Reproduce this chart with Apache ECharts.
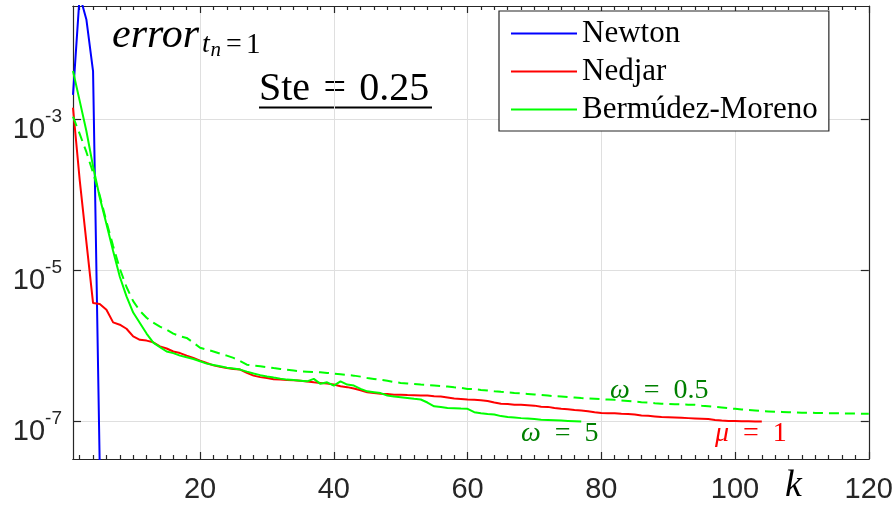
<!DOCTYPE html>
<html>
<head>
<meta charset="utf-8">
<script src="https://cdn.jsdelivr.net/npm/echarts@6/dist/echarts.min.js"></script>
<style>
  html, body { margin: 0; padding: 0; background: #fff; }
  #chart { width: 896px; height: 506px; }
</style>
</head>
<body>
<div id="chart"></div>
<script>
// Error at t_n = 1 versus iteration k (Ste = 0.25)

// Newton iterations k = 1..5
const newtonErr = [2.1e-3, 4.4e-2, 2.1e-2, 4.3e-3, 2.5e-8];

// Nedjar (mu = 1), k = 1..104
const nedjarErr = [
  1.42e-3, 1.57e-4, 2.38e-5, 3.68e-6, 3.57e-6, 3.0e-6, 2.04e-6, 1.90e-6, 1.68e-6, 1.33e-6,
  1.20e-6, 1.17e-6, 1.11e-6, 9.8e-7, 9.2e-7, 8.4e-7, 8.0e-7, 7.4e-7, 6.9e-7, 6.35e-7,
  5.9e-7, 5.5e-7, 5.25e-7, 5.06e-7, 4.93e-7, 4.83e-7, 4.37e-7, 4.02e-7, 3.84e-7, 3.73e-7,
  3.61e-7, 3.56e-7, 3.53e-7, 3.48e-7, 3.45e-7, 3.35e-7, 3.28e-7, 3.22e-7, 3.15e-7, 3.06e-7,
  2.90e-7, 2.83e-7, 2.71e-7, 2.57e-7, 2.42e-7, 2.36e-7, 2.32e-7, 2.29e-7, 2.25e-7, 2.25e-7,
  2.22e-7, 2.21e-7, 2.19e-7, 2.19e-7, 2.15e-7, 2.12e-7, 2.06e-7, 2.0e-7, 1.97e-7, 1.94e-7,
  1.92e-7, 1.90e-7, 1.85e-7, 1.77e-7, 1.71e-7, 1.69e-7, 1.66e-7, 1.65e-7, 1.63e-7, 1.61e-7,
  1.56e-7, 1.55e-7, 1.50e-7, 1.46e-7, 1.44e-7, 1.41e-7, 1.39e-7, 1.36e-7, 1.32e-7, 1.29e-7,
  1.28e-7, 1.28e-7, 1.26e-7, 1.25e-7, 1.23e-7, 1.19e-7, 1.18e-7, 1.16e-7, 1.14e-7, 1.13e-7,
  1.12e-7, 1.11e-7, 1.10e-7, 1.09e-7, 1.08e-7, 1.07e-7, 1.04e-7, 1.02e-7, 1.01e-7, 1.005e-7,
  1.0e-7, 1.0e-7, 0.99e-7, 0.99e-7
];

// Bermudez-Moreno, omega = 5, k = 1..77
const bmOmega5Err = [
  4.36e-3, 1.75e-3, 7.0e-4, 2.38e-4, 9.2e-5, 4.1e-5, 1.8e-5, 8.2e-6, 4.5e-6, 2.75e-6,
  2.0e-6, 1.45e-6, 1.10e-6, 9.6e-7, 8.4e-7, 7.98e-7, 7.4e-7, 7.03e-7, 6.68e-7, 6.22e-7,
  5.8e-7, 5.57e-7, 5.35e-7, 5.13e-7, 4.98e-7, 4.83e-7, 4.54e-7, 4.28e-7, 4.08e-7, 3.92e-7,
  3.79e-7, 3.67e-7, 3.56e-7, 3.51e-7, 3.45e-7, 3.38e-7, 3.64e-7, 3.13e-7, 3.28e-7, 2.97e-7,
  3.38e-7, 3.06e-7, 2.97e-7, 2.68e-7, 2.49e-7, 2.43e-7, 2.36e-7, 2.19e-7, 2.12e-7, 2.08e-7,
  2.03e-7, 1.98e-7, 1.94e-7, 1.77e-7, 1.58e-7, 1.54e-7, 1.50e-7, 1.49e-7, 1.47e-7, 1.46e-7,
  1.32e-7, 1.28e-7, 1.25e-7, 1.23e-7, 1.17e-7, 1.14e-7, 1.12e-7, 1.10e-7, 1.09e-7, 1.07e-7,
  1.05e-7, 1.04e-7, 1.03e-7, 1.02e-7, 1.01e-7, 1.0e-7, 0.99e-7
];

// Bermudez-Moreno, omega = 0.5, k = 1..120
const bmOmega05Err = [
  1.08e-3, 6.4e-4, 3.69e-4, 1.95e-4, 9.8e-5, 4.4e-5, 2.1e-5, 1.05e-5, 6.0e-6, 3.9e-6,
  2.9e-6, 2.35e-6, 2.02e-6, 1.79e-6, 1.63e-6, 1.45e-6, 1.34e-6, 1.27e-6, 1.10e-6, 9.4e-7,
  8.9e-7, 8.4e-7, 7.86e-7, 7.4e-7, 6.9e-7, 6.25e-7, 5.62e-7, 5.45e-7, 5.35e-7, 5.2e-7,
  5.06e-7, 4.93e-7, 4.80e-7, 4.69e-7, 4.58e-7, 4.54e-7, 4.49e-7, 4.45e-7, 4.37e-7, 4.28e-7,
  4.19e-7, 4.1e-7, 4.02e-7, 3.90e-7, 3.74e-7, 3.64e-7, 3.54e-7, 3.44e-7, 3.30e-7, 3.22e-7,
  3.17e-7, 3.11e-7, 3.06e-7, 3.02e-7, 2.97e-7, 2.92e-7, 2.89e-7, 2.82e-7, 2.77e-7, 2.68e-7,
  2.66e-7, 2.60e-7, 2.56e-7, 2.50e-7, 2.45e-7, 2.41e-7, 2.37e-7, 2.34e-7, 2.30e-7, 2.26e-7,
  2.23e-7, 2.19e-7, 2.15e-7, 2.13e-7, 2.09e-7, 2.06e-7, 2.03e-7, 2.01e-7, 1.99e-7, 1.96e-7,
  1.94e-7, 1.92e-7, 1.88e-7, 1.85e-7, 1.82e-7, 1.79e-7, 1.77e-7, 1.73e-7, 1.71e-7, 1.70e-7,
  1.68e-7, 1.67e-7, 1.66e-7, 1.65e-7, 1.61e-7, 1.58e-7, 1.55e-7, 1.52e-7, 1.49e-7, 1.46e-7,
  1.43e-7, 1.41e-7, 1.39e-7, 1.36e-7, 1.35e-7, 1.34e-7, 1.33e-7, 1.32e-7, 1.31e-7, 1.30e-7,
  1.30e-7, 1.29e-7, 1.29e-7, 1.28e-7, 1.28e-7, 1.27e-7, 1.27e-7, 1.27e-7, 1.26e-7, 1.26e-7
];

// Axis ranges and tick marks
const K_MIN = 1, K_MAX = 120;
const Y_MIN = Math.pow(10, -7.5), Y_MAX = Math.pow(10, -1.5);
const xMajorTicks = [20, 40, 60, 80, 100, 120];
const xMinorTicks = [2, 4, 6, 8, 10, 12, 14, 16, 18, 22, 24, 26, 28, 30, 32, 34, 36, 38,
  42, 44, 46, 48, 50, 52, 54, 56, 58, 62, 64, 66, 68, 70, 72, 74, 76, 78,
  82, 84, 86, 88, 90, 92, 94, 96, 98, 102, 104, 106, 108, 110, 112, 114, 116, 118];
const yTicks = [1e-7, 1e-5, 1e-3];

const INK = '#262626';
const GRID = '#dfdfdf';
const DARK_GREEN = '#008000';
const SANS = '"Liberation Sans", Arial, sans-serif';
const SERIF = '"Liberation Serif", "Times New Roman", serif';
const EN = '\u2002';

const withK = arr => arr.map((v, i) => [i + 1, v]);

function xAxisDef(pos, ticks, len, withLabels, withGrid) {
  return {
    type: 'value', position: pos, min: K_MIN, max: K_MAX,
    axisLine: { show: true, onZero: false, lineStyle: { color: INK, width: 1.2 } },
    axisTick: { show: true, inside: true, length: len, customValues: ticks,
                lineStyle: { color: INK, width: 1.2 } },
    axisLabel: withLabels ? {
      show: true, customValues: ticks, margin: 16,
      fontFamily: SANS, fontSize: 29, color: INK
    } : { show: false },
    splitLine: { show: withGrid, lineStyle: { color: GRID, width: 1 } }
  };
}

function yAxisDef(pos, withLabels) {
  return {
    type: 'log', logBase: 10, position: pos, min: Y_MIN, max: Y_MAX,
    axisLine: { show: true, onZero: false, lineStyle: { color: INK, width: 1.2 } },
    axisTick: { show: true, inside: true, length: 8, customValues: yTicks,
                lineStyle: { color: INK, width: 1.2 } },
    axisLabel: withLabels ? {
      show: true, customValues: yTicks, margin: 11,
      formatter: v => '{b|10}{s|' + Math.round(Math.log10(v)) + '}',
      rich: {
        b: { fontFamily: SANS, fontSize: 29, lineHeight: 30, color: INK,
             verticalAlign: 'top', padding: [11, 0, 0, 0] },
        s: { fontFamily: SANS, fontSize: 19, lineHeight: 19, color: INK,
             verticalAlign: 'top', padding: [3, 0, 0, 0] }
      }
    } : { show: false },
    splitLine: { show: withLabels, lineStyle: { color: GRID, width: 1 } }
  };
}

function lineSeries(name, values, color, dashed) {
  return {
    name: name, type: 'line', data: withK(values),
    xAxisIndex: 0, yAxisIndex: 0,
    symbol: 'none', showSymbol: false, clip: true,
    lineStyle: { color: color, width: 2, type: dashed ? [10, 6] : 'solid' },
    itemStyle: { color: color },
    emphasis: { disabled: true }
  };
}

function label(x, y, text, font, color, rich) {
  return {
    type: 'text', x: x, y: y, silent: true,
    style: {
      text: text, font: font, fill: color, rich: rich,
      align: 'left', verticalAlign: 'middle', textAlign: 'left', textVerticalAlign: 'middle'
    }
  };
}

function mathRich(color) {
  return {
    i: { fontFamily: SERIF, fontStyle: 'italic', fontSize: 28, fill: color, color: color },
    r: { fontFamily: SERIF, fontSize: 28, fill: color, color: color }
  };
}

const chart = echarts.init(document.getElementById('chart'), null, { renderer: 'canvas' });

chart.setOption({
  animation: false,
  backgroundColor: '#ffffff',
  grid: { left: 73, right: 27, top: 6, bottom: 47, containLabel: false },
  xAxis: [
    xAxisDef('bottom', xMajorTicks, 7, true, true),
    xAxisDef('bottom', xMinorTicks, 4, false, false),
    xAxisDef('top', xMajorTicks, 7, false, false),
    xAxisDef('top', xMinorTicks, 4, false, false)
  ],
  yAxis: [
    yAxisDef('left', true),
    yAxisDef('right', false)
  ],
  legend: {
    data: ['Newton', 'Nedjar', 'Bermúdez-Moreno'],
    orient: 'vertical', left: 499, top: 11,
    padding: [7, 11, 6, 12],
    itemWidth: 66, itemHeight: 2, itemGap: 7,
    icon: 'rect',
    selectedMode: false,
    backgroundColor: '#ffffff', borderColor: INK, borderWidth: 1.2, borderRadius: 0,
    textStyle: { fontFamily: SERIF, fontSize: 31, lineHeight: 30, color: '#000' }
  },
  series: [
    lineSeries('Newton', newtonErr, '#0000ff', false),
    lineSeries('Nedjar', nedjarErr, '#ff0000', false),
    lineSeries('Bermúdez-Moreno', bmOmega5Err, '#00ff00', false),
    lineSeries('Bermúdez-Moreno ω = 0.5', bmOmega05Err, '#00ff00', true)
  ],
  graphic: [
    // error_{t_n = 1}
    label(112, 36, 'error', 'italic 42px ' + SERIF, '#000'),
    label(202, 45, 't', 'italic 28px ' + SERIF, '#000'),
    label(210.5, 50, 'n', 'italic 21px ' + SERIF, '#000'),
    label(226, 45, '=', '28px ' + SERIF, '#000'),
    label(246, 45, '1', '29px ' + SERIF, '#000'),
    // Ste = 0.25, underlined
    label(259, 89, 'Ste\u2004=\u20040.25', '40px ' + SERIF, '#000'),
    { type: 'line', silent: true,
      shape: { x1: 259, y1: 107.5, x2: 432, y2: 107.5 },
      style: { stroke: '#000', lineWidth: 2 } },
    // curve annotations
    label(610, 391, '{i|ω}{r|' + EN + '=' + EN + '0.5}', '28px ' + SERIF, DARK_GREEN, mathRich(DARK_GREEN)),
    label(521, 434, '{i|ω}{r|' + EN + '=' + EN + '5}', '28px ' + SERIF, DARK_GREEN, mathRich(DARK_GREEN)),
    label(715, 434, '{i|μ}{r|' + EN + '=' + EN + '1}', '28px ' + SERIF, '#ff0000', mathRich('#ff0000')),
    // axis name
    label(785, 486, 'k', 'italic 38px ' + SERIF, '#000')
  ]
});
</script>
</body>
</html>
